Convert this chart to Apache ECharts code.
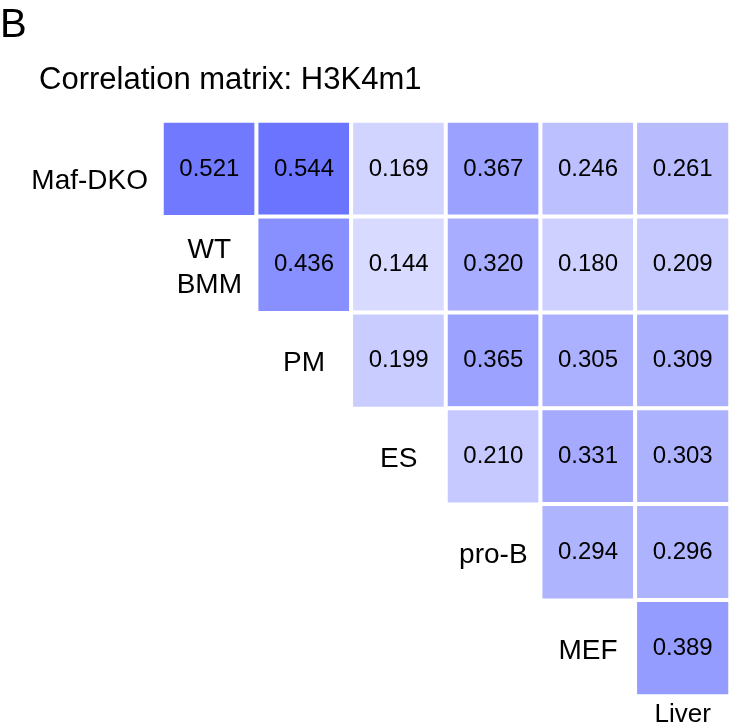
<!DOCTYPE html>
<html>
<head>
<meta charset="utf-8">
<script src="https://cdn.jsdelivr.net/npm/echarts@6/dist/echarts.min.js"></script>
<style>html,body{margin:0;padding:0;background:#fff}#c{width:731px;height:728px}</style>
</head>
<body>
<div id="c"></div>
<script>
// Row samples (top to bottom) and column samples (left to right)
const rowNames = ['Maf-DKO', 'WT BMM', 'PM', 'ES', 'pro-B', 'MEF'];
const colNames = ['WT BMM', 'PM', 'ES', 'pro-B', 'MEF', 'Liver'];
// Upper-triangle correlation values; row i starts at column i
const row0 = [0.521, 0.544, 0.169, 0.367, 0.246, 0.261];
const row1 = [0.436, 0.144, 0.320, 0.180, 0.209];
const row2 = [0.199, 0.365, 0.305, 0.309];
const row3 = [0.210, 0.331, 0.303];
const row4 = [0.294, 0.296];
const row5 = [0.389];
const rowsValues = [row0, row1, row2, row3, row4, row5];
const titleText = 'Correlation matrix: H3K4m1';
const panelLetter = 'B';

const heatData = [];
rowsValues.forEach((vals, i) => {
  vals.forEach((v, k) => heatData.push([i + k, i, v]));
});
// diagonal labels: sample name of row i placed in column i-1
const diagLabels = [];
for (let i = 1; i < rowNames.length; i++) {
  diagLabels.push({ value: [i - 1, i], name: rowNames[i].replace(' ', '\n') });
}

const FONT = 'Liberation Sans, Arial, Helvetica, sans-serif';
const chart = echarts.init(document.getElementById('c'));
chart.setOption({
  animation: false,
  backgroundColor: '#ffffff',
  title: [
    { text: panelLetter, left: 0, top: 6, padding: 0, textStyle: { fontFamily: FONT, fontSize: 40, fontWeight: 'normal', color: '#000' } },
    { text: titleText, left: 39, top: 65, padding: 0, textStyle: { fontFamily: FONT, fontSize: 31, fontWeight: 'normal', color: '#000' } }
  ],
  grid: { left: 162, top: 121, width: 568, height: 575 },
  xAxis: {
    type: 'category', data: colNames, position: 'bottom',
    axisLine: { show: false }, axisTick: { show: false }, splitLine: { show: false },
    axisLabel: {
      interval: 0, margin: 6, fontFamily: FONT, fontSize: 26, color: '#000',
      formatter: (v, i) => i === colNames.length - 1 ? v : ''
    }
  },
  yAxis: {
    type: 'category', data: rowNames, inverse: true,
    axisLine: { show: false }, axisTick: { show: false }, splitLine: { show: false },
    axisLabel: {
      interval: 0, margin: 14, fontFamily: FONT, fontSize: 28, color: '#000',
      verticalAlign: 'top', lineHeight: 24,
      formatter: (v, i) => i === 0 ? v : ''
    }
  },
  visualMap: {
    show: false, min: 0, max: 0.544, dimension: 2, seriesIndex: 0,
    inRange: { color: ['#ffffff', '#6b74ff'] }
  },
  series: [
    {
      type: 'heatmap', data: heatData,
      itemStyle: { borderColor: '#ffffff', borderWidth: 4 },
      label: {
        show: true, fontFamily: FONT, fontSize: 24, color: '#000',
        formatter: p => p.value[2].toFixed(3)
      },
      emphasis: { disabled: true }
    },
    {
      type: 'scatter', data: diagLabels, symbolSize: 0, silent: true,
      itemStyle: { opacity: 1 },
      label: {
        show: true, position: 'inside', formatter: p => p.name, opacity: 1,
        fontFamily: FONT, fontSize: 28, color: '#000', lineHeight: 35, align: 'center',
        offset: [0, 3]
      },
      emphasis: { disabled: true }
    }
  ]
});
</script>
</body>
</html>
